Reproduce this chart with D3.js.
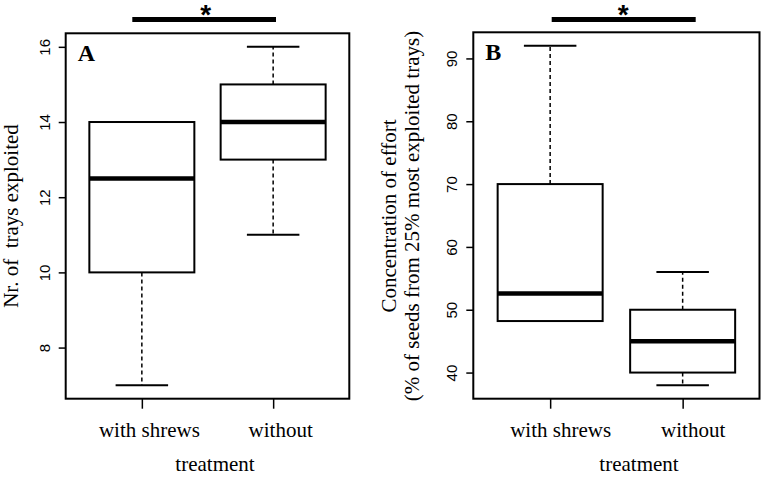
<!DOCTYPE html>
<html><head><meta charset="utf-8">
<script src="https://cdn.jsdelivr.net/npm/d3@7/dist/d3.min.js"></script>
<style>
html,body{margin:0;padding:0;background:#fff;}
svg{display:block;}
.serif{font-family:"Liberation Serif","Times New Roman",serif;}
.sans{font-family:"Liberation Sans",Arial,sans-serif;}
</style></head>
<body>
<script>
const categories = ["with shrews", "without"];
// five-number summaries: [lower whisker, Q1, median, Q3, upper whisker]
const statsA = [[7, 10, 12.5, 14, 14], [11, 13, 14, 15, 16]];
const statsB = [[48.2, 48.2, 52.6, 70, 92], [38, 40, 45, 50, 56]];
const ticksA = [8, 10, 12, 14, 16];
const ticksB = [40, 50, 60, 70, 80, 90];
const titleA = "Nr. of  trays exploited";
const titleB1 = "Concentration of effort";
const titleB2 = "(% of seeds from 25% most exploited trays)";
const xTitle = "treatment";

const W = 761, H = 477;
const svg = d3.select("body").append("svg").attr("width", W).attr("height", H);

function panel(opts) {
  const {left, right, top, bottom, stats, ticks, letter, labelDx, xTitleX, tickLabelX, barX0, barX1, starX} = opts;
  const g = svg.append("g");
  const all = stats.flat();
  const mn = d3.min(all), mx = d3.max(all), pad = (mx - mn) * 0.04;
  const y = d3.scaleLinear().domain([mn - pad, mx + pad]).range([bottom, top]);
  const x = d3.scalePoint().domain(categories).range([left, right]).padding(0.58);
  const bw = 105;

  categories.forEach((c, i) => {
    const s = stats[i], cx = x(c);
    if (s[4] > s[3]) g.append("line").attr("x1", cx).attr("x2", cx).attr("y1", y(s[3])).attr("y2", y(s[4]))
      .attr("stroke", "#000").attr("stroke-width", 1.5).attr("stroke-dasharray", "4,3");
    if (s[0] < s[1]) g.append("line").attr("x1", cx).attr("x2", cx).attr("y1", y(s[1])).attr("y2", y(s[0]))
      .attr("stroke", "#000").attr("stroke-width", 1.5).attr("stroke-dasharray", "4,3");
    [s[0], s[4]].forEach(v => {
      g.append("line").attr("x1", cx - bw / 4).attr("x2", cx + bw / 4).attr("y1", y(v)).attr("y2", y(v))
        .attr("stroke", "#000").attr("stroke-width", 2);
    });
    g.append("rect").attr("x", cx - bw / 2).attr("y", y(s[3])).attr("width", bw).attr("height", y(s[1]) - y(s[3]))
      .attr("fill", "#fff").attr("stroke", "#000").attr("stroke-width", 2);
    g.append("line").attr("x1", cx - bw / 2).attr("x2", cx + bw / 2).attr("y1", y(s[2])).attr("y2", y(s[2]))
      .attr("stroke", "#000").attr("stroke-width", 4.5);
  });

  g.append("rect").attr("x", left).attr("y", top).attr("width", right - left).attr("height", bottom - top)
    .attr("fill", "none").attr("stroke", "#000").attr("stroke-width", 2);

  const ya = g.append("g").attr("transform", `translate(${left},0)`)
    .call(d3.axisLeft(y).tickValues(ticks).tickSize(7).tickSizeOuter(0).tickFormat(d3.format("d")));
  ya.select(".domain").remove();
  ya.selectAll(".tick line").attr("stroke", "#000").attr("stroke-width", 1.5);
  ya.selectAll(".tick text").attr("class", "sans").attr("font-size", 15).attr("fill", "#000")
    .attr("x", null).attr("dy", null).attr("text-anchor", "middle")
    .attr("transform", `translate(${tickLabelX - left},0) rotate(-90)`);

  const xa = g.append("g").attr("transform", `translate(0,${bottom})`)
    .call(d3.axisBottom(x).tickSize(10).tickSizeOuter(0));
  xa.select(".domain").remove();
  xa.selectAll(".tick line").attr("stroke", "#000").attr("stroke-width", 1.5);
  xa.selectAll(".tick text").attr("class", "serif").attr("font-size", 21).attr("fill", "#000")
    .attr("y", 38).attr("dy", null).attr("dx", labelDx);

  g.append("text").attr("class", "serif").attr("x", xTitleX).attr("y", 471).attr("text-anchor", "middle")
    .attr("font-size", 21).text(xTitle);

  g.append("text").attr("class", "serif").attr("x", left + 12).attr("y", top + 28).attr("font-size", 24)
    .attr("font-weight", "bold").text(letter);

  g.append("line").attr("x1", barX0).attr("x2", barX1).attr("y1", 19.5).attr("y2", 19.5)
    .attr("stroke", "#000").attr("stroke-width", 5);
  g.append("text").attr("class", "sans").attr("x", starX).attr("y", 24).attr("text-anchor", "middle")
    .attr("font-size", 28).attr("font-weight", "bold").text("*");
  return g;
}

panel({left: 65.7, right: 349.3, top: 33.3, bottom: 398.7, stats: statsA, ticks: ticksA, letter: "A",
  labelDx: 7, xTitleX: 215, tickLabelX: 50, barX0: 132.3, barX1: 276, starX: 205.7});
panel({left: 473.3, right: 759.5, top: 32.3, bottom: 398.7, stats: statsB, ticks: ticksB, letter: "B",
  labelDx: 10, xTitleX: 639, tickLabelX: 457, barX0: 551.7, barX1: 695.7, starX: 623.3});

svg.append("text").attr("class", "serif").attr("font-size", 21).attr("text-anchor", "middle")
  .style("white-space", "pre").attr("transform", "translate(18,216) rotate(-90)").text(titleA);
svg.append("text").attr("class", "serif").attr("font-size", 21).attr("text-anchor", "middle")
  .attr("transform", "translate(396,216) rotate(-90)").text(titleB1);
svg.append("text").attr("class", "serif").attr("font-size", 21).attr("text-anchor", "middle")
  .attr("transform", "translate(419,216) rotate(-90)").text(titleB2);
</script>
</body></html>
